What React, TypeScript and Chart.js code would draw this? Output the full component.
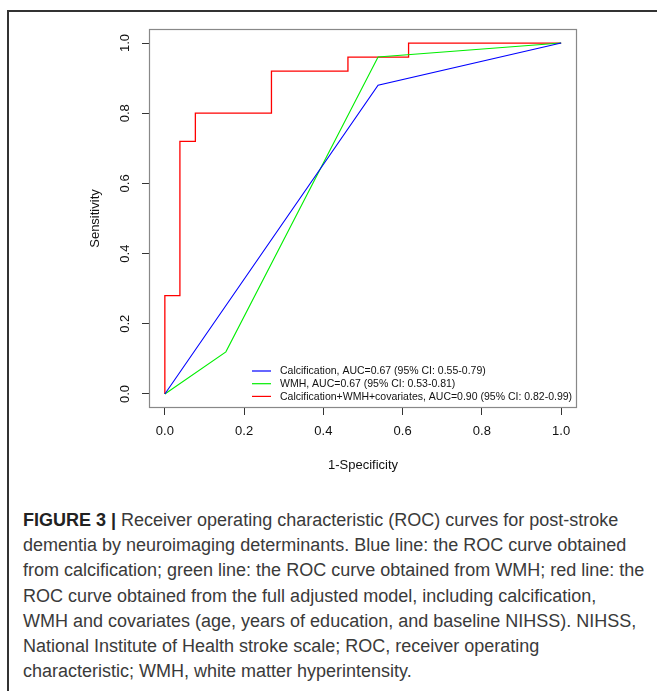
import React, { useEffect, useRef } from "react";
import { Chart, registerables } from "chart.js";

Chart.register(...registerables);

// ROC coordinates (1-Specificity, Sensitivity)
const calcFpr = [0, 0.538, 1];
const calcTpr = [0, 0.88, 1];
const wmhFpr = [0, 0.154, 0.538, 1];
const wmhTpr = [0, 0.12, 0.96, 1];
const fullFpr = [0, 0, 0.038, 0.038, 0.077, 0.077, 0.269, 0.269, 0.462, 0.462, 0.615, 0.615, 1];
const fullTpr = [0, 0.28, 0.28, 0.72, 0.72, 0.8, 0.8, 0.92, 0.92, 0.96, 0.96, 1, 1];

const seriesLabels = [
  "Calcification, AUC=0.67 (95% CI: 0.55-0.79)",
  "WMH, AUC=0.67 (95% CI: 0.53-0.81)",
  "Calcification+WMH+covariates, AUC=0.90 (95% CI: 0.82-0.99)",
];
const seriesColors = ["#0000ff", "#00ee00", "#ff0000"];
const xTicks = [0, 0.2, 0.4, 0.6, 0.8, 1.0];
const yTicks = [0, 0.2, 0.4, 0.6, 0.8, 1.0];
const xTitle = "1-Specificity";
const yTitle = "Sensitivity";

const captionLines = [
  "Receiver operating characteristic (ROC) curves for post-stroke",
  "dementia by neuroimaging determinants. Blue line: the ROC curve obtained",
  "from calcification; green line: the ROC curve obtained from WMH; red line: the",
  "ROC curve obtained from the full adjusted model, including calcification,",
  "WMH and covariates (age, years of education, and baseline NIHSS). NIHSS,",
  "National Institute of Health stroke scale; ROC, receiver operating",
  "characteristic; WMH, white matter hyperintensity.",
];

const FONT = "'Liberation Sans', Arial, Helvetica, sans-serif";

const toPoints = (xs: number[], ys: number[]) => xs.map((x, i) => ({ x, y: ys[i] }));

const decorPlugin = {
  id: "decor",
  afterDatasetsDraw(chart: any) {
    const ctx = chart.ctx;
    const a = chart.chartArea;
    // legend (bottom-right, no box)
    ctx.save();
    ctx.font = `10.5px ${FONT}`;
    ctx.textBaseline = "middle";
    ctx.textAlign = "left";
    const rows = [371, 383.7, 396.4];
    chart.data.datasets.forEach((ds: any, i: number) => {
      const y = rows[i];
      ctx.strokeStyle = ds.borderColor;
      ctx.lineWidth = 1.2;
      ctx.beginPath();
      ctx.moveTo(252, y);
      ctx.lineTo(271, y);
      ctx.stroke();
      ctx.fillStyle = "#111";
      ctx.fillText(ds.label, 280, y + 0.5);
    });
    // plot box
    ctx.strokeStyle = "#888";
    ctx.lineWidth = 1.2;
    ctx.strokeRect(a.left + 0.5, a.top + 0.5, a.right - a.left - 1, a.bottom - a.top - 1);
    ctx.restore();
  },
  afterDraw(chart: any) {
    const ctx = chart.ctx;
    const a = chart.chartArea;
    const ys = chart.scales.y;
    ctx.save();
    ctx.fillStyle = "#111";
    ctx.font = `13px ${FONT}`;
    ctx.textAlign = "center";
    ctx.textBaseline = "middle";
    yTicks.forEach((v) => {
      const py = ys.getPixelForValue(v);
      ctx.save();
      ctx.translate(a.left - 24, py);
      ctx.rotate(-Math.PI / 2);
      ctx.fillText(v.toFixed(1), 0, 0);
      ctx.restore();
    });
    // titles
    ctx.fillText(xTitle, (a.left + a.right) / 2, a.bottom + 57);
    ctx.save();
    ctx.translate(a.left - 54, (a.top + a.bottom) / 2);
    ctx.rotate(-Math.PI / 2);
    ctx.fillText(yTitle, 0, 0);
    ctx.restore();
    ctx.restore();
  },
};

function RocChart() {
  const ref = useRef<HTMLCanvasElement | null>(null);
  useEffect(() => {
    if (!ref.current) return;
    const chart = new Chart(ref.current, {
      type: "scatter",
      data: {
        datasets: [
          { label: seriesLabels[0], data: toPoints(calcFpr, calcTpr), borderColor: seriesColors[0], borderWidth: 1.1 },
          { label: seriesLabels[1], data: toPoints(wmhFpr, wmhTpr), borderColor: seriesColors[1], borderWidth: 1.1 },
          { label: seriesLabels[2], data: toPoints(fullFpr, fullTpr), borderColor: seriesColors[2], borderWidth: 1.3 },
        ].map((d) => ({ ...d, showLine: true, pointRadius: 0, fill: false, tension: 0 })),
      },
      options: {
        responsive: false,
        animation: false,
        devicePixelRatio: 1,
        layout: { padding: { top: 29, right: 80, left: 0, bottom: 0 } },
        plugins: { legend: { display: false }, tooltip: { enabled: false } },
        scales: {
          x: {
            type: "linear",
            min: -0.04,
            max: 1.04,
            afterBuildTicks: (s: any) => {
              s.ticks = xTicks.map((v) => ({ value: v }));
            },
            afterFit: (s: any) => {
              s.height = 92;
            },
            grid: { drawOnChartArea: false, drawTicks: true, tickLength: 7, tickColor: "#333", lineWidth: 1 },
            border: { display: false },
            ticks: {
              autoSkip: false,
              maxRotation: 0,
              padding: 9,
              color: "#111",
              font: { size: 13, family: FONT },
              callback: (v: any) => Number(v).toFixed(1),
            },
          },
          y: {
            type: "linear",
            min: -0.04,
            max: 1.04,
            afterBuildTicks: (s: any) => {
              s.ticks = yTicks.map((v) => ({ value: v }));
            },
            afterFit: (s: any) => {
              s.width = 149;
            },
            grid: { drawOnChartArea: false, drawTicks: true, tickLength: 7, tickColor: "#333", lineWidth: 1 },
            border: { display: false },
            ticks: { callback: () => "", font: { size: 12, family: FONT } },
          },
        },
      },
      plugins: [decorPlugin],
    } as any);
    return () => chart.destroy();
  }, []);
  return (
    <canvas
      ref={ref}
      width={657}
      height={500}
      style={{ position: "absolute", left: 0, top: 0, width: 657, height: 500, display: "block" }}
    />
  );
}

export default function App() {
  return (
    <div style={{ position: "absolute", left: 0, top: 0, width: 657, height: 691, overflow: "hidden", background: "#fff" }}>
      <div
        style={{
          position: "absolute",
          left: 7,
          top: 10,
          width: 700,
          height: 720,
          borderTop: "2px solid #333",
          borderLeft: "2px solid #333",
        }}
      />
      <RocChart />
      <div
        style={{
          position: "absolute",
          left: 23,
          top: 508,
          fontFamily: FONT,
          fontSize: 18,
          lineHeight: "25.2px",
          color: "#3a3a3a",
          whiteSpace: "nowrap",
        }}
      >
        {captionLines.map((line, i) => (
          <div key={i}>
            {i === 0 ? <b style={{ color: "#222" }}>FIGURE 3 | </b> : null}
            {line}
          </div>
        ))}
      </div>
    </div>
  );
}
